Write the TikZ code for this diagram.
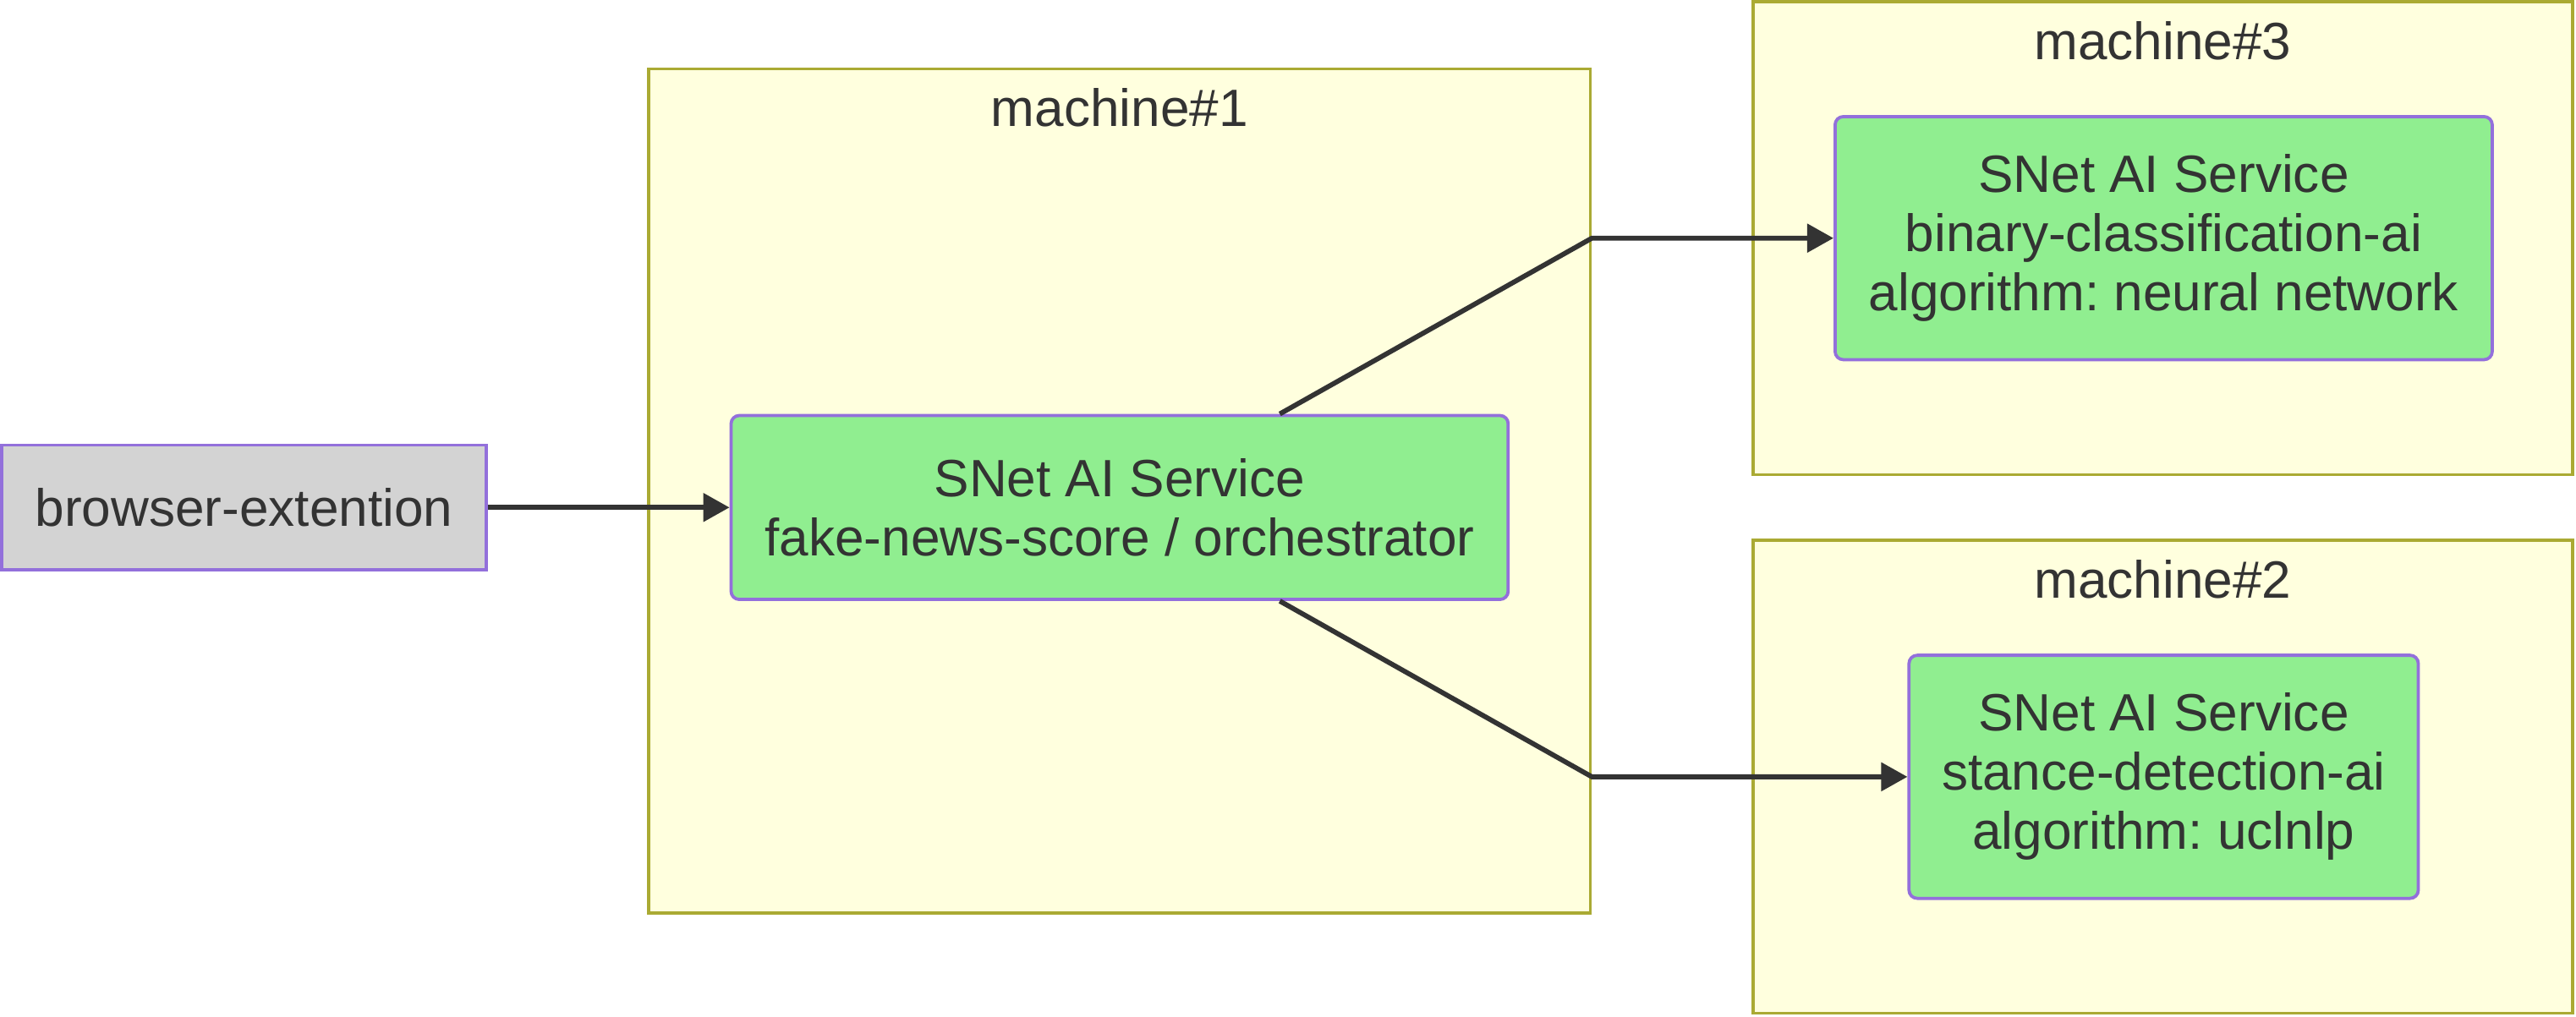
\documentclass[tikz,border=0pt]{standalone}
\usepackage{fontspec}
\setmainfont{Liberation Sans}
\usetikzlibrary{arrows, arrows.meta}
\usetikzlibrary{calc}
\definecolor{inkgrey}{HTML}{333333}
\definecolor{servicegreen}{HTML}{90EE90}
\definecolor{serviceborder}{HTML}{9370DB}
\definecolor{machinefill}{HTML}{FFFFDE}
\definecolor{machineborder}{HTML}{AAAA33}
\definecolor{clientgrey}{HTML}{D3D3D3}
\newcommand{\pxu}{0.02cm}
\frenchspacing

\begin{document}
\begin{tikzpicture}[x=0.02cm, y=-0.02cm,
    every node/.style={font=\fontsize{18.2}{20.5}\selectfont, text=inkgrey, inner sep=0pt},
    machine/.style={draw=machineborder, fill=machinefill, line width=1.1pt},
    service/.style={draw=serviceborder, fill=servicegreen, line width=1.1pt, rounded corners=0.1cm, align=center},
    client/.style={draw=serviceborder, fill=clientgrey, line width=1.1pt},
    flow/.style={draw=inkgrey, line width=1.7pt, -{Triangle[length=0.32cm, width=0.34cm]}}]
    \useasboundingbox (0,0) rectangle (1568,618.8);

    \node[machine, minimum width=573*\pxu, minimum height=514*\pxu] (mach1) at (681.5,299) {};
    \node[machine, minimum width=499*\pxu, minimum height=288*\pxu] (mach3) at (1316.5,145) {};
    \node[machine, minimum width=499*\pxu, minimum height=288*\pxu] (mach2) at (1316.5,473) {};
    \foreach \m/\t in {mach1/1, mach3/3, mach2/2} {
      \node[anchor=base] (lbl\t) at ($(\m.north)+(0,36)$) {machine\#\t};
    }

    \node[client, minimum width=295*\pxu, minimum height=76*\pxu] (browser) at (148.5,309) {browser-extention};
    \node[service, minimum width=473*\pxu, minimum height=112*\pxu] (orch) at (681.5,309)
      {SNet AI Service\\fake-news-score / orchestrator};
    \node[service, minimum width=400*\pxu, minimum height=148*\pxu] (ai3) at (1317,145)
      {SNet AI Service\\binary-classification-ai\\algorithm: neural network};
    \node[service, minimum width=310*\pxu, minimum height=148*\pxu] (ai2) at (1317,473)
      {SNet AI Service\\stance-detection-ai\\algorithm: uclnlp};

    \draw[flow] (browser.east) -- (orch.west);
    \foreach \side/\target in {north/ai3, south/ai2} {
      \draw[flow] ($(orch.\side)+(97.5,0)$) -- (mach1.east |- \target.west) -- (\target.west);
    }
\end{tikzpicture}
\end{document}
